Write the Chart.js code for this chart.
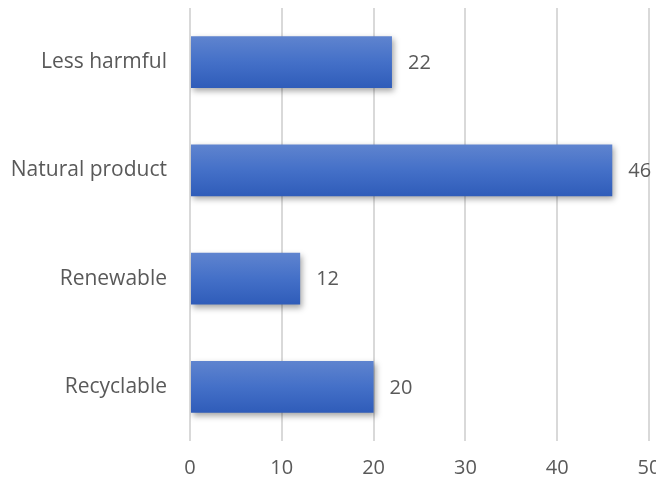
<!DOCTYPE html>
<html>
<head>
<meta charset="utf-8">
<script src="https://cdn.jsdelivr.net/npm/chart.js@4/dist/chart.umd.min.js"></script>
<style>
  html, body { margin: 0; padding: 0; background: #fff; overflow: hidden; }
  #wrap { position: relative; width: 656px; height: 484px; overflow: hidden; }
  #chart { display: block; }
</style>
</head>
<body>
<div id="wrap"><canvas id="chart" width="668" height="484"></canvas></div>
<script>
// chart data
const categories = ['Less harmful', 'Natural product', 'Renewable', 'Recyclable'];
const values = [22, 46, 12, 20];
const tickValues = [0, 10, 20, 30, 40, 50];

const FONT = '"Open Sans", sans-serif';
const TEXT = '#595959';

// per-bar vertical gradient, light on top and darker below
function barFill(context) {
    const chart = context.chart;
    const yScale = chart.scales.y;
    if (!chart.chartArea || !yScale) return '#4472c4';
    const yc = yScale.getPixelForValue(context.dataIndex);
    const half = 26;
    const g = chart.ctx.createLinearGradient(0, yc - half, 0, yc + half);
    g.addColorStop(0, '#5f84cf');
    g.addColorStop(0.5, '#4470c8');
    g.addColorStop(1, '#2f5cb9');
    return g;
}

const shadowPlugin = {
    id: 'barShadow',
    beforeDatasetsDraw(chart) {
        const ctx = chart.ctx;
        ctx.save();
        ctx.shadowColor = 'rgba(0,0,0,0.35)';
        ctx.shadowBlur = 6;
        ctx.shadowOffsetX = 2;
        ctx.shadowOffsetY = 3;
    },
    afterDatasetsDraw(chart) {
        chart.ctx.restore();
    }
};

const valueLabels = {
    id: 'valueLabels',
    afterDatasetsDraw(chart) {
        const ctx = chart.ctx;
        const meta = chart.getDatasetMeta(0);
        ctx.save();
        ctx.font = '20px ' + FONT;
        ctx.fillStyle = TEXT;
        ctx.textAlign = 'left';
        ctx.textBaseline = 'middle';
        meta.data.forEach((bar, i) => {
            ctx.fillText(String(values[i]), bar.x + 16, bar.y + 1);
        });
        ctx.restore();
    }
};

new Chart(document.getElementById('chart'), {
    type: 'bar',
    data: {
        labels: categories,
        datasets: [{
            data: values,
            backgroundColor: barFill,
            borderWidth: 0,
            categoryPercentage: 1,
            barPercentage: 0.48
        }]
    },
    options: {
        indexAxis: 'y',
        responsive: false,
        animation: false,
        layout: { padding: { top: 8, right: 19, bottom: 3, left: 0 } },
        plugins: { legend: { display: false }, tooltip: { enabled: false } },
        scales: {
            x: {
                min: 0,
                max: 50,
                afterBuildTicks(scale) {
                    scale.ticks = tickValues.map(v => ({ value: v }));
                },
                afterFit(scale) { scale.height = 40; scale.paddingLeft = 0; scale.paddingRight = 0; },
                border: { display: false },
                grid: { color: '#d9d9d9', lineWidth: 2, drawTicks: false },
                ticks: { color: TEXT, font: { family: FONT, size: 20 }, padding: 15 }
            },
            y: {
                border: { display: false },
                grid: { display: false, drawTicks: false },
                afterFit(scale) { scale.width = 190; scale.paddingTop = 0; scale.paddingBottom = 0; },
                ticks: { color: TEXT, font: { family: FONT, size: 21 }, padding: 23 }
            }
        }
    },
    plugins: [shadowPlugin, valueLabels]
});
</script>
</body>
</html>
